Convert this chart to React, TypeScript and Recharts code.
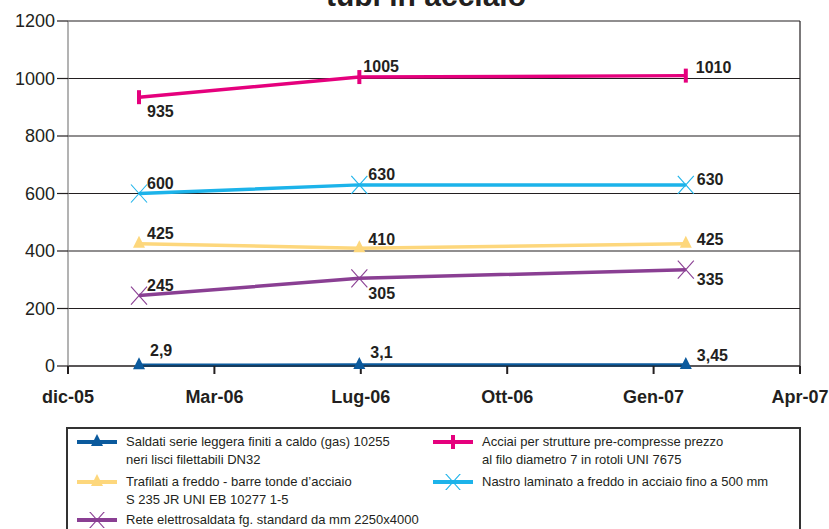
import React from 'react';
import {
  LineChart,
  Line,
  XAxis,
  YAxis,
  CartesianGrid,
  ReferenceLine,
  LabelList
} from 'recharts';

// posizione dei rilevamenti sull'asse dei periodi (0 = dic-05, 5 = Apr-07)
const periodi = [0.485, 1.99, 4.22];
const tickPeriodi = ['dic-05', 'Mar-06', 'Lug-06', 'Ott-06', 'Gen-07', 'Apr-07'];
const tickValori = [0, 200, 400, 600, 800, 1000, 1200];

const saldati = [2.9, 3.1, 3.45];
const acciai = [935, 1005, 1010];
const trafilati = [425, 410, 425];
const nastro = [600, 630, 630];
const rete = [245, 305, 335];

type Marker = 'triangle' | 'bar' | 'cross';

interface Serie {
  key: string;
  color: string;
  marker: Marker;
  label: string[];
  // spostamento etichette [dx, dy] per ogni punto
  offsets: [number, number][];
}

const serie: Serie[] = [
  {
    key: 'saldati',
    color: '#0b5a9d',
    marker: 'triangle',
    label: ['Saldati serie leggera finiti a caldo (gas) 10255', 'neri lisci filettabili DN32'],
    offsets: [[11, -9], [11, -7], [11, -4]]
  },
  {
    key: 'acciai',
    color: '#e5007d',
    marker: 'bar',
    label: ['Acciai per strutture pre-compresse prezzo', 'al filo diametro 7 in rotoli UNI 7675'],
    offsets: [[8, 20], [4, -5], [10, -3]]
  },
  {
    key: 'trafilati',
    color: '#fdd77c',
    marker: 'triangle',
    label: ['Trafilati a freddo - barre tonde d\u2019acciaio', 'S 235 JR UNI EB 10277 1-5'],
    offsets: [[8, -5], [9, -3], [11, 1]]
  },
  {
    key: 'nastro',
    color: '#1cb3ea',
    marker: 'cross',
    label: ['Nastro laminato a freddo in acciaio fino a 500 mm'],
    offsets: [[8, -5], [9, -5], [11, 0]]
  },
  {
    key: 'rete',
    color: '#8a3f93',
    marker: 'cross',
    label: ['Rete elettrosaldata fg. standard da mm 2250x4000'],
    offsets: [[8, -5], [9, 21], [11, 15]]
  }
];

const data = periodi.map((x, i) => ({
  x,
  saldati: saldati[i],
  acciai: acciai[i],
  trafilati: trafilati[i],
  nastro: nastro[i],
  rete: rete[i]
}));

const drawMarker = (marker: Marker, color: string, cx: number, cy: number, key?: string) => {
  if (marker === 'triangle') {
    return (
      <polygon
        key={key}
        points={`${cx},${cy - 8} ${cx - 6},${cy + 4} ${cx + 6},${cy + 4}`}
        fill={color}
      />
    );
  }
  if (marker === 'bar') {
    return <rect key={key} x={cx - 2} y={cy - 7} width={4} height={14} fill={color} />;
  }
  return (
    <g key={key} stroke={color} strokeWidth={1.1}>
      <line x1={cx - 8} y1={cy - 9} x2={cx + 8} y2={cy + 9} />
      <line x1={cx - 8} y1={cy + 9} x2={cx + 8} y2={cy - 9} />
    </g>
  );
};

const makeDot = (s: Serie) => (props: any) => {
  const { cx, cy, index } = props;
  if (cx == null || cy == null) return <g key={index} />;
  return drawMarker(s.marker, s.color, cx, cy, `${s.key}-${index}`);
};

const makeLabel = (s: Serie) => (props: any) => {
  const { x, y, index, value } = props;
  const [dx, dy] = s.offsets[index] || [8, -5];
  const testo = String(value).replace('.', ',');
  return (
    <text
      key={`${s.key}-l-${index}`}
      x={x + dx}
      y={y + dy}
      fontSize={16}
      fontWeight="bold"
      fill="#231f20"
      fontFamily="'Liberation Sans', Arial, sans-serif"
    >
      {testo}
    </text>
  );
};

const LegendItem: React.FC<{ s: Serie; left: number; top: number }> = ({ s, left, top }) => (
  <div style={{ position: 'absolute', left, top }}>
    <svg width={42} height={16} style={{ position: 'absolute', left: 0, top: 0 }}>
      <line x1={1} y1={8} x2={41} y2={8} stroke={s.color} strokeWidth={4} />
      {drawMarker(s.marker, s.color, 21, 8)}
    </svg>
    <div
      style={{
        position: 'absolute',
        left: 50,
        top: -1,
        whiteSpace: 'nowrap',
        fontSize: 13,
        lineHeight: '18px',
        color: '#231f20'
      }}
    >
      {s.label.map((l, i) => (
        <div key={i}>{l}</div>
      ))}
    </div>
  </div>
);

const App: React.FC = () => {
  return (
    <div
      style={{
        position: 'absolute',
        left: 0,
        top: 0,
        width: 829,
        height: 529,
        overflow: 'hidden',
        background: '#fff',
        fontFamily: "'Liberation Sans', Arial, sans-serif"
      }}
    >
      <LineChart
        width={829}
        height={420}
        data={data}
        margin={{ top: 21, right: 29, left: 0, bottom: 14 }}
      >
        <text
          x={426}
          y={6}
          textAnchor="middle"
          fontSize={30}
          fontWeight="bold"
          fill="#231f20"
          fontFamily="'Liberation Sans', Arial, sans-serif"
        >
          tubi in acciaio
        </text>
        <CartesianGrid vertical={false} stroke="#231f20" strokeWidth={1.2} />
        <ReferenceLine x={5} stroke="#231f20" strokeWidth={1.2} />
        <XAxis
          dataKey="x"
          type="number"
          domain={[0, 5]}
          ticks={[0, 1, 2, 3, 4, 5]}
          tickFormatter={(v: number) => tickPeriodi[v]}
          height={40}
          axisLine={{ stroke: '#231f20', strokeWidth: 1.2 }}
          tickLine={{ stroke: '#231f20', strokeWidth: 2 }}
          tickSize={8}
          tick={{ fill: '#231f20', fontSize: 18, fontWeight: 'bold', dy: 14 }}
          interval={0}
        />
        <YAxis
          type="number"
          domain={[0, 1200]}
          ticks={tickValori}
          width={68}
          axisLine={{ stroke: '#808080', strokeWidth: 1.2 }}
          tickLine={{ stroke: '#231f20', strokeWidth: 1.2 }}
          tickSize={11}
          tick={{ fill: '#231f20', fontSize: 18 }}
          interval={0}
        />
        {serie.map((s) => (
          <Line
            key={s.key}
            type="linear"
            dataKey={s.key}
            stroke={s.color}
            strokeWidth={3.5}
            dot={makeDot(s)}
            activeDot={false}
            isAnimationActive={false}
          >
            <LabelList dataKey={s.key} content={makeLabel(s)} />
          </Line>
        ))}
      </LineChart>
      <div
        style={{
          position: 'absolute',
          left: 66,
          top: 427,
          width: 731,
          height: 120,
          border: '2px solid #333'
        }}
      >
        <LegendItem s={serie[0]} left={8} top={5} />
        <LegendItem s={serie[2]} left={8} top={45} />
        <LegendItem s={serie[4]} left={8} top={83} />
        <LegendItem s={serie[1]} left={364} top={5} />
        <LegendItem s={serie[3]} left={364} top={45} />
      </div>
    </div>
  );
};

export default App;
